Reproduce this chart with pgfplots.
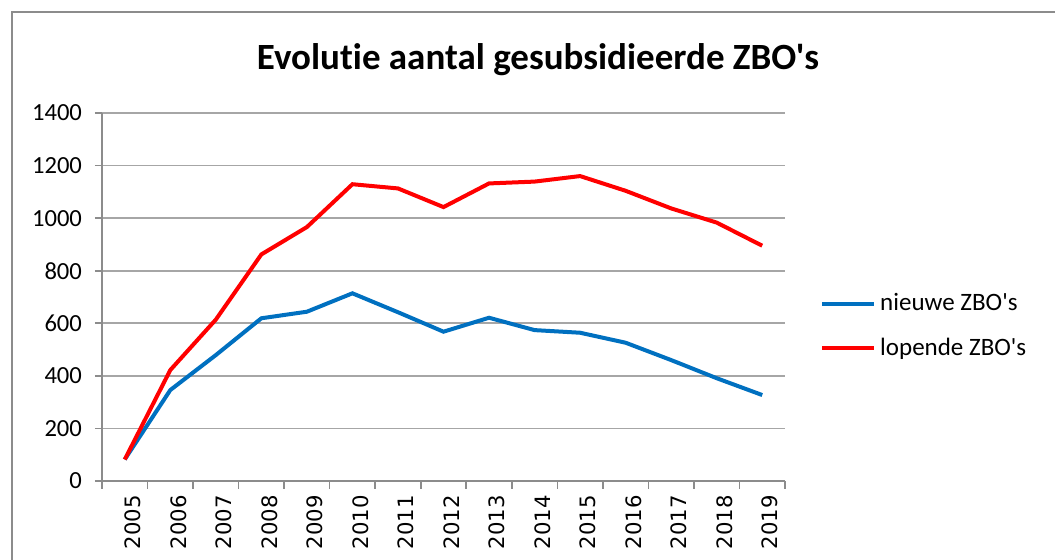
\documentclass[border=0pt]{standalone}
\usepackage{pgfplots}
\pgfplotsset{compat=1.18}
\usepackage{fontspec}
\setmainfont{Carlito}[Ligatures={CommonOff,TeXOff}]
\newfontfamily\dejavu{DejaVu Sans}
\definecolor{zblue}{HTML}{0070C0}
\definecolor{zred}{HTML}{FF0000}
\definecolor{gridc}{HTML}{A6A6A6}
\definecolor{framec}{HTML}{8C8C8C}
\begin{document}
\begin{tikzpicture}
\useasboundingbox (-51pt,-39.5pt) rectangle (476.5pt,240.5pt);
\draw[framec, line width=0.8pt] (-45pt,234.5pt) rectangle (486.5pt,-60pt);
\node[font=\fontsize{16}{18}\selectfont] at (-41.5pt,246pt) {y};
\node[font=\fontsize{18.5}{22}\selectfont\bfseries] at (218pt,210.5pt) {Evolutie aantal gesubsidieerde ZBO's};
\begin{axis}[
  at={(0pt,0pt)}, anchor=south west,
  scale only axis, width=341.5pt, height=184pt,
  xmin=-0.5, xmax=14.5, ymin=0, ymax=1400,
  ytick={0,200,...,1400},
  xtick={0,...,14},
  xticklabels={2005,2006,2007,2008,2009,2010,2011,2012,2013,2014,2015,2016,2017,2018,2019},
  minor xtick={-0.5,0.5,...,14.5},
  axis lines*=left,
  axis line style={draw=framec, line width=0.8pt, -},
  tick align=outside,
  major tick length=3.5pt,
  minor tick length=4pt,
  major x tick style={draw=none},
  minor x tick style={draw=framec, line width=0.8pt},
  major y tick style={draw=framec, line width=0.8pt},
  ymajorgrids,
  grid style={gridc, line width=0.8pt},
  /pgf/number format/assume math mode=true,
  /pgf/number format/set thousands separator={},
  yticklabel style={font=\fontsize{12.3}{14}\selectfont, xshift=-3pt},
  xticklabel style={font=\dejavu\fontsize{10.6}{12}\selectfont, rotate=90, anchor=east, yshift=-4pt},
  legend style={at={(1.051,0.421)}, anchor=west, draw=none, fill=none,
    font=\fontsize{12.5}{14}\selectfont, row sep=8pt, inner sep=0pt,
    /tikz/every even column/.append style={column sep=2pt}},
  legend cell align=left,
  legend image code/.code={\draw[#1] (0pt,0pt) -- (26pt,0pt);},
  clip=false,
]
\addplot[zblue, line width=2pt] coordinates {
(0,82) (1,346) (2,479) (3,619) (4,644) (5,714) (6,642) (7,568) (8,621) (9,574) (10,564) (11,526) (12,460) (13,391) (14,327)};
\addlegendentry{nieuwe ZBO's}
\addplot[zred, line width=2pt] coordinates {
(0,82) (1,422) (2,614) (3,862) (4,966) (5,1129) (6,1113) (7,1042) (8,1132) (9,1139) (10,1160) (11,1104) (12,1037) (13,983) (14,895)};
\addlegendentry{lopende ZBO's}
\end{axis}
\end{tikzpicture}
\end{document}
